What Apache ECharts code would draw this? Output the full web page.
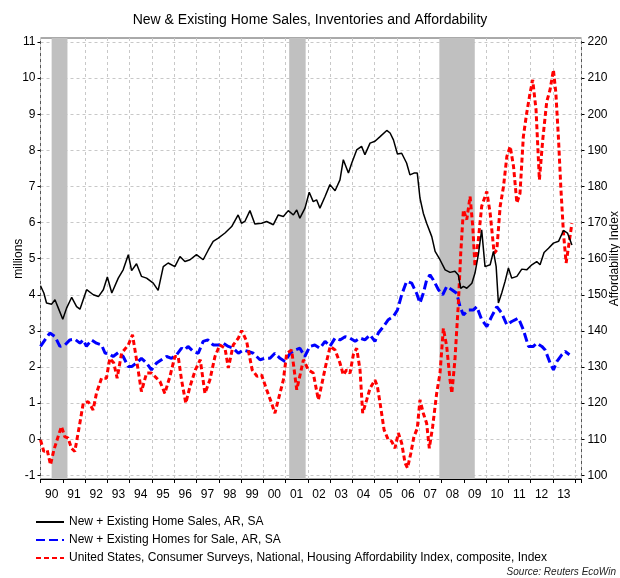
<!DOCTYPE html>
<html>
<head>
<meta charset="utf-8">
<script src="https://cdn.jsdelivr.net/npm/echarts@6/dist/echarts.min.js"></script>
<style>
  html, body { margin: 0; padding: 0; background: #fff; }
  #chart { width: 620px; height: 578px; }
</style>
</head>
<body>
<div id="chart"></div>
<script>
// year labels under the x axis
const yearLabels = ['90', '91', '92', '93', '94', '95', '96', '97', '98', '99', '00', '01',
  '02', '03', '04', '05', '06', '07', '08', '09', '10', '11', '12', '13'];

// recessions (decimal years)
const recessions = [[1990.5, 1991.21], [2001.16, 2001.9], [2007.9, 2009.49]];

// New + Existing Home Sales, millions
const salesT = [1990.0, 1990.15, 1990.27, 1990.5, 1990.65, 1990.8, 1991.0, 1991.17, 1991.4, 1991.62,
  1991.77, 1992.07, 1992.37, 1992.6, 1992.82, 1993.0, 1993.2, 1993.49, 1993.71, 1993.94,
  1994.09, 1994.31, 1994.53, 1994.76, 1995.06, 1995.28, 1995.51, 1995.73, 1996.03, 1996.26,
  1996.48, 1996.71, 1997.0, 1997.3, 1997.53, 1997.75, 1997.98, 1998.28, 1998.58, 1998.87,
  1999.02, 1999.17, 1999.4, 1999.62, 1999.92, 2000.15, 2000.45, 2000.67, 2000.9, 2001.12,
  2001.35, 2001.5, 2001.64, 2001.87, 2002.06, 2002.24, 2002.39, 2002.54, 2002.77, 2002.99,
  2003.22, 2003.44, 2003.59, 2003.82, 2003.97, 2004.19, 2004.41, 2004.56, 2004.79, 2005.01,
  2005.24, 2005.54, 2005.69, 2005.84, 2006.02, 2006.21, 2006.43, 2006.58, 2006.76, 2006.91,
  2007.03, 2007.18, 2007.33, 2007.56, 2007.71, 2007.93, 2008.16, 2008.38, 2008.6, 2008.75,
  2008.86, 2008.98, 2009.13, 2009.36, 2009.5, 2009.65, 2009.8, 2009.95, 2010.18, 2010.33,
  2010.45, 2010.55, 2010.7, 2010.85, 2011.0, 2011.15, 2011.38, 2011.6, 2011.82, 2012.05,
  2012.27, 2012.42, 2012.6, 2012.8, 2013.02, 2013.25, 2013.47, 2013.65, 2013.85];
const salesV = [4.25, 4.05, 3.77, 3.74, 3.86, 3.63, 3.32, 3.63, 3.93, 3.67,
  3.6, 4.14, 4.0, 3.95, 4.14, 4.49, 4.05, 4.46, 4.69, 5.11,
  4.67, 4.86, 4.51, 4.46, 4.32, 4.12, 4.78, 4.88, 4.78, 5.06,
  4.92, 4.97, 5.11, 4.97, 5.24, 5.48, 5.57, 5.71, 5.89, 6.21,
  5.98, 6.03, 6.33, 5.96, 5.98, 6.03, 5.94, 6.21, 6.17, 6.33,
  6.21, 6.35, 6.12, 6.4, 6.84, 6.58, 6.63, 6.4, 6.72, 7.05,
  6.88, 7.18, 7.74, 7.37, 7.65, 8.01, 8.11, 7.88, 8.2, 8.25,
  8.38, 8.55, 8.48, 8.29, 7.9, 7.92, 7.65, 7.32, 7.37, 7.37,
  6.68, 6.26, 5.98, 5.61, 5.2, 4.97, 4.69, 4.62, 4.65, 4.55,
  4.18, 4.23, 4.18, 4.32, 4.6, 5.11, 5.8, 4.78, 4.83, 5.2,
  4.78, 3.77, 4.05, 4.37, 4.74, 4.46, 4.51, 4.71, 4.69, 4.83,
  4.92, 4.83, 5.17, 5.29, 5.43, 5.48, 5.78, 5.71, 5.38];

// New + Existing Homes for Sale, millions
const stockT = [1990.0, 1990.2, 1990.42, 1990.65, 1990.87, 1991.1, 1991.32, 1991.54, 1991.77, 1991.92,
  1992.06, 1992.29, 1992.51, 1992.74, 1992.9, 1993.04, 1993.26, 1993.49, 1993.71, 1993.94,
  1994.09, 1994.31, 1994.53, 1994.76, 1994.98, 1995.21, 1995.43, 1995.66, 1995.88, 1996.11,
  1996.33, 1996.48, 1996.62, 1996.85, 1997.08, 1997.3, 1997.51, 1997.75, 1998.0, 1998.2,
  1998.43, 1998.65, 1998.88, 1999.1, 1999.33, 1999.55, 1999.85, 2000.07, 2000.3, 2000.52,
  2000.75, 2000.97, 2001.2, 2001.42, 2001.64, 2001.86, 2002.09, 2002.31, 2002.54, 2002.77,
  2002.99, 2003.22, 2003.44, 2003.67, 2003.89, 2004.12, 2004.34, 2004.56, 2004.79, 2005.01,
  2005.16, 2005.39, 2005.61, 2005.84, 2006.02, 2006.21, 2006.43, 2006.66, 2006.88, 2007.03,
  2007.18, 2007.33, 2007.48, 2007.63, 2007.86, 2008.05, 2008.23, 2008.46, 2008.68, 2008.83,
  2008.98, 2009.21, 2009.43, 2009.58, 2009.8, 2010.03, 2010.25, 2010.48, 2010.7, 2010.93,
  2011.15, 2011.45, 2011.67, 2011.9, 2012.12, 2012.27, 2012.5, 2012.65, 2012.87, 2013.02,
  2013.17, 2013.4, 2013.55, 2013.74];
const stockV = [2.57, 2.75, 2.94, 2.84, 2.57, 2.61, 2.75, 2.77, 2.66, 2.75,
  2.57, 2.75, 2.66, 2.61, 2.38, 2.38, 2.29, 2.4, 2.29, 2.01,
  2.01, 2.11, 2.24, 2.11, 1.92, 2.11, 2.2, 2.29, 2.24, 2.34,
  2.52, 2.47, 2.57, 2.43, 2.38, 2.71, 2.75, 2.61, 2.61, 2.66,
  2.57, 2.52, 2.38, 2.47, 2.43, 2.38, 2.2, 2.24, 2.24, 2.38,
  2.24, 2.15, 2.38, 2.47, 2.52, 2.29, 2.57, 2.61, 2.52, 2.71,
  2.57, 2.8, 2.75, 2.84, 2.8, 2.71, 2.8, 2.75, 2.89, 2.71,
  2.94, 3.12, 3.31, 3.4, 3.58, 4.0, 4.37, 4.32, 4.04, 3.77,
  4.04, 4.41, 4.55, 4.41, 4.14, 4.0, 4.23, 4.14, 4.04, 3.67,
  3.44, 3.58, 3.58, 3.67, 3.31, 3.12, 3.4, 3.67, 3.49, 3.17,
  3.26, 3.35, 3.03, 2.57, 2.57, 2.66, 2.57, 2.47, 2.11, 1.92,
  2.15, 2.34, 2.43, 2.34];

// Housing Affordability Index (right axis)
const affT = [1990.0, 1990.15, 1990.3, 1990.45, 1990.6, 1990.79, 1990.94, 1991.09, 1991.24, 1991.39,
  1991.54, 1991.74, 1991.92, 1992.14, 1992.36, 1992.51, 1992.74, 1992.96, 1993.11, 1993.29,
  1993.44, 1993.64, 1993.94, 1994.13, 1994.31, 1994.53, 1994.76, 1994.98, 1995.21, 1995.36,
  1995.58, 1995.81, 1996.03, 1996.18, 1996.33, 1996.52, 1996.71, 1996.95, 1997.17, 1997.38,
  1997.6, 1997.83, 1998.05, 1998.28, 1998.43, 1998.65, 1998.88, 1999.03, 1999.25, 1999.5,
  1999.72, 1999.92, 2000.15, 2000.37, 2000.52, 2000.67, 2000.9, 2001.05, 2001.27, 2001.5,
  2001.65, 2001.8, 2002.02, 2002.24, 2002.47, 2002.62, 2002.84, 2003.0, 2003.22, 2003.44,
  2003.59, 2003.74, 2003.89, 2004.04, 2004.19, 2004.34, 2004.46, 2004.64, 2004.79, 2005.01,
  2005.12, 2005.24, 2005.42, 2005.61, 2005.76, 2005.91, 2006.06, 2006.21, 2006.36, 2006.47,
  2006.62, 2006.76, 2006.91, 2007.03, 2007.18, 2007.33, 2007.45, 2007.6, 2007.78, 2007.93,
  2008.08, 2008.23, 2008.38, 2008.46, 2008.6, 2008.75, 2008.86, 2008.98, 2009.13, 2009.28,
  2009.4, 2009.5, 2009.65, 2009.8, 2010.03, 2010.18, 2010.36, 2010.48, 2010.63, 2010.78,
  2010.93, 2011.08, 2011.23, 2011.38, 2011.52, 2011.67, 2011.82, 2011.97, 2012.09, 2012.24,
  2012.39, 2012.54, 2012.72, 2012.87, 2013.02, 2013.13, 2013.25, 2013.35, 2013.47, 2013.59,
  2013.7, 2013.85];
const affV = [109.8, 106.6, 107, 102.9, 107, 110.7, 113.5, 110.7, 110.3, 107.5,
  106.6, 113.5, 120, 120.4, 118.1, 122.7, 126.9, 126.9, 132.4, 131.1,
  126.9, 133.8, 136.1, 138.9, 132, 123.2, 128.3, 128.3, 126.9, 126,
  122.7, 127.4, 132.9, 132.9, 126.4, 120, 124.6, 129.2, 132, 122.7,
  126.4, 132.9, 136.1, 135.2, 129.7, 136.1, 138, 140.1, 137.1, 129.2,
  127.4, 127.8, 123.7, 120, 117.2, 120.9, 126.4, 133.8, 134.7, 123.7,
  127.8, 132, 129.2, 128.3, 120.9, 125.1, 131.5, 135.7, 134.7, 131.1,
  127.8, 129.2, 128.3, 133.4, 135.2, 129.2, 117.2, 120.9, 124.1, 126.4,
  124.6, 120, 112.6, 109.8, 109.4, 107.5, 111.7, 108.9, 103.4, 102,
  106.1, 110.7, 113, 120.9, 117.2, 114.4, 107.5, 113.5, 122.7, 128.3,
  140.7, 135.7, 126.4, 122.7, 132, 147.2, 161.5, 173.5, 170.8, 177.2,
  168.9, 157.8, 165.2, 174.5, 178.6, 172.6, 161.5, 162.4, 174.5, 180,
  188.3, 191.1, 185.5, 175.4, 178.1, 193.8, 200.3, 205.8, 209.5, 201.2,
  181.8, 192.9, 203.5, 206.8, 212.3, 205.8, 192.9, 180, 167.1, 158.8,
  163.4, 169.8];

function pairs(t, v) {
  return t.map((x, i) => [x, v[i]]);
}

const xMin = 1990;
const xMax = 2014.28;
const gridColor = '#c8c8c8';

let myChart = echarts.init(document.getElementById('chart'));
myChart.setOption({
  animation: false,
  textStyle: { fontFamily: 'Liberation Sans, Arial, sans-serif' },
  title: {
    text: 'New & Existing Home Sales, Inventories and Affordability',
    left: 'center',
    top: 8,
    textStyle: { fontSize: 14, fontWeight: 'normal', color: '#000' },
  },
  legend: {
    orient: 'vertical',
    left: 35,
    top: 516,
    padding: 0,
    itemWidth: 28,
    itemHeight: 12,
    itemGap: 6,
    itemStyle: { opacity: 0 },
    data: [
      'New + Existing Home Sales, AR, SA',
      'New + Existing Homes for Sale, AR, SA',
      'United States, Consumer Surveys, National, Housing Affordability Index, composite, Index',
    ],
    textStyle: { fontSize: 12, color: '#000' },
  },
  graphic: [
    {
      type: 'text',
      right: 4,
      top: 567,
      style: {
        text: 'Source: Reuters EcoWin',
        fontSize: 10,
        fontStyle: 'italic',
        fill: '#222',
        fontFamily: 'Liberation Sans, Arial, sans-serif',
      },
    },
  ],
  grid: [
    // frame, x ticks, vertical grid lines, recession bands
    { left: 40.5, right: 38.5, top: 38, bottom: 99, show: true, borderColor: '#555', borderWidth: 1,
      containLabel: false, outerBoundsMode: 'none' },
    // plotting area for values
    { left: 40.5, right: 38.5, top: 42, bottom: 102.7, containLabel: false, outerBoundsMode: 'none' },
    // year labels, centred between year lines
    { left: 40.5, right: 45, top: 38, bottom: 99, containLabel: false, outerBoundsMode: 'none' },
  ],
  xAxis: [
    {
      type: 'value', gridIndex: 0, min: xMin, max: xMax, interval: 1,
      axisLine: { lineStyle: { color: '#000' } },
      axisTick: { show: true, length: 4, lineStyle: { color: '#000' } },
      axisLabel: { show: false },
      splitLine: { show: true, lineStyle: { color: gridColor, type: [3, 3] } },
    },
    { type: 'value', gridIndex: 1, min: xMin, max: xMax, show: false },
    {
      type: 'category', gridIndex: 2, data: yearLabels, boundaryGap: true,
      axisLine: { show: false },
      axisTick: { show: false },
      axisLabel: { fontSize: 12, color: '#000', margin: 10 },
    },
  ],
  yAxis: [
    { type: 'value', gridIndex: 0, min: 0, max: 1, show: false },
    {
      type: 'value', gridIndex: 1, min: -1, max: 11, interval: 1, position: 'left',
      name: 'millions', nameLocation: 'middle', nameGap: 16, nameRotate: 90,
      nameMoveOverlap: false,
      nameTextStyle: { fontSize: 12, color: '#000' },
      axisLine: { show: false },
      axisTick: { show: true, length: 3, lineStyle: { color: '#000' } },
      axisLabel: { fontSize: 12, color: '#000', margin: 5 },
      splitLine: { show: true, lineStyle: { color: gridColor, type: [3, 3] } },
    },
    {
      type: 'value', gridIndex: 1, min: 100, max: 220, interval: 10, position: 'right',
      name: 'Affordability Index', nameLocation: 'middle', nameGap: 27, nameRotate: 90,
      nameMoveOverlap: false,
      nameTextStyle: { fontSize: 12, color: '#000' },
      axisLine: { show: false },
      axisTick: { show: true, length: 3, lineStyle: { color: '#000' } },
      axisLabel: { fontSize: 12, color: '#000', margin: 6 },
      splitLine: { show: false },
    },
    { type: 'value', gridIndex: 2, show: false },
  ],
  series: [
    {
      name: 'recessions',
      type: 'line',
      xAxisIndex: 0,
      yAxisIndex: 0,
      data: [],
      silent: true,
      markArea: {
        silent: true,
        itemStyle: { color: '#c0c0c0' },
        data: recessions.map((r) => [{ xAxis: r[0] }, { xAxis: r[1] }]),
      },
    },
    {
      name: 'New + Existing Home Sales, AR, SA',
      type: 'line',
      xAxisIndex: 1,
      yAxisIndex: 1,
      symbol: 'none',
      data: pairs(salesT, salesV),
      lineStyle: { color: '#000', width: 1.5 },
      itemStyle: { color: '#000' },
      z: 4,
    },
    {
      name: 'New + Existing Homes for Sale, AR, SA',
      type: 'line',
      xAxisIndex: 1,
      yAxisIndex: 1,
      symbol: 'none',
      data: pairs(stockT, stockV),
      lineStyle: { color: '#0000ff', width: 3, type: [9, 4] },
      itemStyle: { color: '#0000ff' },
      z: 3,
    },
    {
      name: 'United States, Consumer Surveys, National, Housing Affordability Index, composite, Index',
      type: 'line',
      xAxisIndex: 1,
      yAxisIndex: 2,
      symbol: 'none',
      data: pairs(affT, affV),
      lineStyle: { color: '#ff0000', width: 3, type: [5, 3] },
      itemStyle: { color: '#ff0000' },
      z: 3,
    },
  ],
});
</script>
</body>
</html>
